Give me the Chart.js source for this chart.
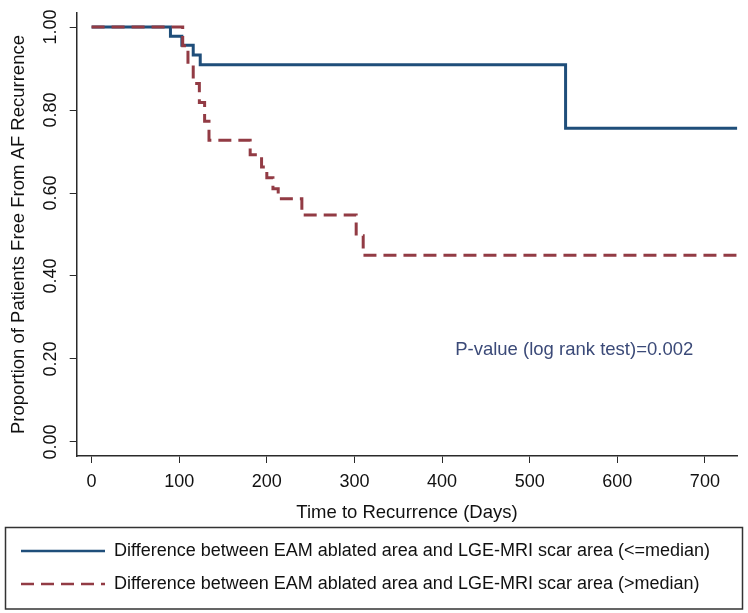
<!DOCTYPE html>
<html>
<head>
<meta charset="utf-8">
<script src="https://cdn.jsdelivr.net/npm/chart.js@4"></script>
<style>
  html, body { margin: 0; padding: 0; background: #fff; }
  #wrap { width: 748px; height: 613px; }
</style>
</head>
<body>
<div id="wrap"><canvas id="myChart" width="748" height="613"></canvas></div>
<script>
// Kaplan-Meier curves (days, proportion free from recurrence)
const lowDays  = [0, 90, 103, 116, 124, 541, 737];
const lowSurv  = [1, 0.978, 0.956, 0.933, 0.909, 0.756, 0.756];
const highDays = [0, 104, 110, 116, 123, 129, 134, 181, 194, 200, 207, 213, 240, 302, 310, 737];
const highSurv = [1, 0.955, 0.909, 0.864, 0.818, 0.773, 0.727, 0.692, 0.663, 0.637, 0.61, 0.586, 0.547, 0.497, 0.45, 0.45];

const seriesLabels = [
  'Difference between EAM ablated area and LGE-MRI scar area (<=median)',
  'Difference between EAM ablated area and LGE-MRI scar area (>median)'
];
const xTicks = [0, 100, 200, 300, 400, 500, 600, 700];
const yTicks = [0, 0.2, 0.4, 0.6, 0.8, 1.0];
const pText = 'P-value (log rank test)=0.002';

const FONT = 'Liberation Sans, Arial, sans-serif';
const AXIS = '#2a2a2a';

const toPoints = (xs, ys) => xs.map((x, i) => ({ x, y: ys[i] }));

// P-value note, placed in data coordinates
const pValuePlugin = {
  id: 'pValue',
  afterDatasetsDraw(chart) {
    const { ctx, scales: { x, y } } = chart;
    ctx.save();
    ctx.font = '18.5px ' + FONT;
    ctx.fillStyle = '#3b4a78';
    ctx.textAlign = 'left';
    ctx.textBaseline = 'middle';
    ctx.fillText(pText, x.getPixelForValue(415), y.getPixelForValue(0.222));
    ctx.restore();
  }
};

// frame around the legend
const legendBoxPlugin = {
  id: 'legendBox',
  afterDraw(chart) {
    const lg = chart.legend;
    if (!lg) return;
    const ctx = chart.ctx;
    ctx.save();
    ctx.strokeStyle = '#333';
    ctx.lineWidth = 1.5;
    ctx.strokeRect(5.5, lg.top + 0.5, chart.width - 11, chart.height - 4.5 - lg.top);
    ctx.restore();
  }
};

const ctx = document.getElementById('myChart').getContext('2d');
new Chart(ctx, {
  type: 'line',
  data: {
    datasets: [
      {
        label: seriesLabels[0],
        data: toPoints(lowDays, lowSurv),
        borderColor: '#1f4e7a',
        backgroundColor: '#1f4e7a',
        borderWidth: 3,
        stepped: 'before',
        pointRadius: 0,
        order: 1
      },
      {
        label: seriesLabels[1],
        data: toPoints(highDays, highSurv),
        borderColor: '#923b44',
        backgroundColor: '#923b44',
        borderWidth: 3,
        borderDash: [13, 7],
        stepped: 'before',
        pointRadius: 0,
        order: 0
      }
    ]
  },
  options: {
    responsive: false,
    animation: false,
    devicePixelRatio: 1,
    layout: { padding: { left: 6, top: 13, right: 10.7, bottom: 10 } },
    plugins: {
      tooltip: { enabled: false },
      legend: {
        position: 'bottom',
        align: 'start',
        labels: {
          usePointStyle: true,
          pointStyleWidth: 84,
          padding: 15,
          color: '#111',
          font: { family: FONT, size: 18 },
          generateLabels: (chart) => chart.data.datasets.map((ds, i) => ({
            text: ds.label,
            fillStyle: ds.borderColor,
            strokeStyle: ds.borderColor,
            lineWidth: 2.5,
            lineDash: ds.borderDash || [],
            pointStyle: 'line',
            hidden: false,
            datasetIndex: i,
            fontColor: '#111'
          }))
        }
      }
    },
    scales: {
      x: {
        type: 'linear',
        min: -17,
        max: 737,
        afterBuildTicks: (scale) => { scale.ticks = xTicks.map(v => ({ value: v })); },
        afterFit: (scale) => { scale.height = 71; },
        grid: { drawOnChartArea: false, drawTicks: true, tickLength: 7, color: AXIS },
        border: { color: AXIS, width: 1.5 },
        ticks: { color: '#111', font: { family: FONT, size: 18 }, padding: 8, maxRotation: 0 },
        title: {
          display: true,
          text: 'Time to Recurrence (Days)',
          color: '#111',
          font: { family: FONT, size: 18.5 },
          padding: { top: 0, bottom: 3 }
        }
      },
      y: {
        min: -0.034,
        max: 1.034,
        afterBuildTicks: (scale) => { scale.ticks = yTicks.map(v => ({ value: v })); },
        afterFit: (scale) => { scale.width = 70.7; },
        grid: { drawOnChartArea: false, drawTicks: true, tickLength: 7, color: AXIS },
        border: { color: AXIS, width: 1.5 },
        ticks: {
          color: '#111',
          font: { family: FONT, size: 18 },
          minRotation: 90,
          maxRotation: 90,
          crossAlign: 'center',
          padding: 1,
          callback: (v) => Number(v).toFixed(2)
        },
        title: {
          display: true,
          text: 'Proportion of Patients Free From AF Recurrence',
          color: '#111',
          font: { family: FONT, size: 18.5 },
          padding: { top: 2, bottom: 0 }
        }
      }
    }
  },
  plugins: [pValuePlugin, legendBoxPlugin]
});
</script>
</body>
</html>
